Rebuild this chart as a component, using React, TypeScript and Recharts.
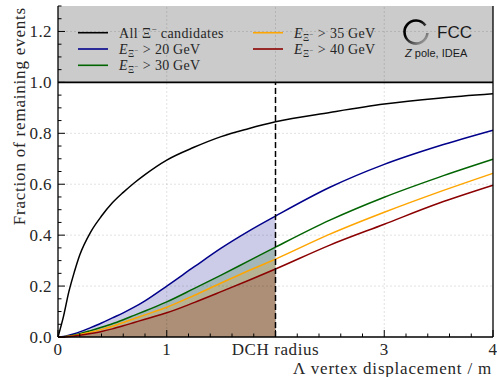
import React from "react";
import {
  ComposedChart,
  Area,
  Line,
  XAxis,
  YAxis,
  ReferenceArea,
  ReferenceLine,
  Legend,
  Customized,
} from "recharts";

// Lambda vertex displacement [m]
const displacement = [0, 0.05, 0.1, 0.15, 0.2, 0.3, 0.4, 0.5, 0.6, 0.7, 0.8, 1.0, 1.25, 1.5, 1.75, 2.0, 2.5, 3.0, 3.5, 4.0];
// fraction of remaining events per selection
const allCandidates = [0, 0.08, 0.178, 0.255, 0.322, 0.412, 0.475, 0.527, 0.568, 0.605, 0.638, 0.695, 0.745, 0.787, 0.818, 0.845, 0.882, 0.915, 0.938, 0.955];
const above20 = [0, 0.002, 0.007, 0.013, 0.02, 0.037, 0.055, 0.075, 0.095, 0.117, 0.142, 0.2, 0.275, 0.349, 0.415, 0.475, 0.588, 0.678, 0.75, 0.812];
const above30 = [0, 0.001, 0.004, 0.008, 0.013, 0.025, 0.038, 0.052, 0.068, 0.085, 0.102, 0.138, 0.19, 0.243, 0.298, 0.353, 0.459, 0.549, 0.627, 0.698];
const above35 = [0, 0.001, 0.003, 0.006, 0.01, 0.019, 0.03, 0.042, 0.057, 0.072, 0.087, 0.117, 0.163, 0.212, 0.26, 0.306, 0.404, 0.49, 0.569, 0.643];
const above40 = [0, 0.0005, 0.002, 0.004, 0.007, 0.014, 0.022, 0.032, 0.044, 0.057, 0.07, 0.095, 0.135, 0.178, 0.222, 0.267, 0.361, 0.443, 0.525, 0.596];

const dchRadius = 2.0;
const energyCuts = [20, 30, 35, 40];

const xMajorTicks = [0, 1, 2, 3, 4];
const xTickLabels = ["0", "1", "DCH radius", "3", "4"];
const yMajorTicks = [0, 0.2, 0.4, 0.6, 0.8, 1.0, 1.2];
const yTickLabels = ["0.0", "0.2", "0.4", "0.6", "0.8", "1.0", "1.2"];

const seriesKeys = ["all", "e20", "e30", "e35", "e40"];
const colours = ["#000000", "#00008b", "#006400", "#ffa500", "#8b0000"];
const seriesValues = [allCandidates, above20, above30, above35, above40];

const rows = displacement.map((x, i) => {
  const row: Record<string, number | null> = { x };
  seriesKeys.forEach((k, s) => {
    row[k] = seriesValues[s][i];
    row[k + "Fill"] = x <= dchRadius ? seriesValues[s][i] : null;
  });
  return row;
});

const xTicks = Array.from({ length: 21 }, (_, i) => Math.round(i * 2) / 10);
const yTicks = Array.from({ length: 27 }, (_, i) => Math.round(i * 5) / 100);

const FONT = "'Liberation Serif', 'DejaVu Serif', serif";
const SANS = "'Liberation Sans', Arial, 'DejaVu Sans', sans-serif";
const TEXT = "#262626";
const MAJOR = 7;
const MINOR = 3.5;

const majorIndex = (v: number, majors: number[]) =>
  majors.findIndex((m) => Math.abs(m - v) < 1e-6);

function BottomTick(p: any) {
  const idx = majorIndex(p.payload.value, xMajorTicks);
  return (
    <g>
      <line x1={p.x} x2={p.x} y1={p.y} y2={p.y - (idx >= 0 ? MAJOR : MINOR)} stroke="#000" strokeWidth={1} />
      {idx >= 0 && (
        <text x={p.x} y={p.y + 17.5} textAnchor="middle" style={{ fontFamily: FONT, fontSize: 17, letterSpacing: 0.6 }} fill={TEXT}>
          {xTickLabels[idx]}
        </text>
      )}
    </g>
  );
}

function TopTick(p: any) {
  const idx = majorIndex(p.payload.value, xMajorTicks);
  return <line x1={p.x} x2={p.x} y1={p.y} y2={p.y + (idx >= 0 ? MAJOR : MINOR)} stroke="#000" strokeWidth={1} />;
}

function LeftTick(p: any) {
  const idx = majorIndex(p.payload.value, yMajorTicks);
  return (
    <g>
      <line x1={p.x} x2={p.x + (idx >= 0 ? MAJOR : MINOR)} y1={p.y} y2={p.y} stroke="#000" strokeWidth={1} />
      {idx >= 0 && (
        <text x={p.x - 6} y={p.y} dy="0.34em" textAnchor="end" style={{ fontFamily: FONT, fontSize: 17, letterSpacing: 0.4 }} fill={TEXT}>
          {yTickLabels[idx]}
        </text>
      )}
    </g>
  );
}

function RightTick(p: any) {
  const idx = majorIndex(p.payload.value, yMajorTicks);
  return <line x1={p.x} x2={p.x - (idx >= 0 ? MAJOR : MINOR)} y1={p.y} y2={p.y} stroke="#000" strokeWidth={1} />;
}

function Titles() {
  return (
    <g style={{ fontFamily: FONT, fontSize: 17, letterSpacing: 0.8 }} fill={TEXT}>
      <text x={492} y={374} textAnchor="end">
        Λ vertex displacement / m
      </text>
      <text x={25} y={7} textAnchor="end" transform="rotate(-90 25 7)">
        Fraction of remaining events
      </text>
    </g>
  );
}

const legendColX = [78, 253];

function LegendPanel() {
  const cx = 416;
  const cy = 32;
  const r = 11.5;
  const a0 = (35 * Math.PI) / 180;
  const a1 = (-5 * Math.PI) / 180;
  const ring = `M ${cx + r * Math.cos(a0)} ${cy - r * Math.sin(a0)} A ${r} ${r} 0 1 0 ${cx + r * Math.cos(a1)} ${cy - r * Math.sin(a1)}`;
  return (
    <svg width={497} height={80} style={{ position: "absolute", left: 0, top: 0, overflow: "visible" }}>
      <defs>
        <linearGradient id="ringGrad" x1="0" y1="0" x2="1" y2="1">
          <stop offset="0.35" stopColor="#000" />
          <stop offset="1" stopColor="#b5b5b5" />
        </linearGradient>
      </defs>
      {seriesKeys.map((k, i) => {
        const col = i < 3 ? 0 : 1;
        const row = i < 3 ? i : i - 3;
        const lx = legendColX[col];
        const ly = 32.7 + row * 16.3;
        return (
          <g key={k}>
            <line x1={lx} x2={lx + 30} y1={ly} y2={ly} stroke={colours[i]} strokeWidth={1.6} />
            <text x={lx + 41} y={ly + 5} fill={TEXT} style={{ fontFamily: FONT, fontSize: 14, letterSpacing: 0.4 }}>
              {i === 0 ? (
                <>
                  All Ξ<tspan fontSize={9} dy={-6}>−</tspan>
                  <tspan dy={6}> candidates</tspan>
                </>
              ) : (
                <>
                  <tspan fontStyle="italic">E</tspan>
                  <tspan fontSize={9.5} dy={3}>Ξ</tspan>
                  <tspan fontSize={7} dy={-4}>−</tspan>
                  <tspan dy={1}>{"  > " + energyCuts[i - 1] + "\u2009GeV"}</tspan>
                </>
              )}
            </text>
          </g>
        );
      })}
      <path d={ring} fill="none" stroke="url(#ringGrad)" strokeWidth={2.6} />
      <text x={437} y={38} fill="#1a1a1a" style={{ fontFamily: SANS, fontSize: 17 }}>
        FCC
      </text>
      <text x={405} y={57} fill="#1a1a1a" style={{ fontFamily: SANS, fontSize: 11 }}>
        <tspan fontStyle="italic">Z</tspan> pole, IDEA
      </text>
    </svg>
  );
}

export default function App() {
  const ax = { xAxisId: "b", yAxisId: "l" };
  return (
    <div style={{ position: "absolute", left: 0, top: 0, width: 497, height: 377, background: "#fff" }}>
      <ComposedChart width={497} height={377} data={rows} margin={{ top: 6, right: 0, bottom: 0, left: 0 }}>
        <XAxis
          xAxisId="b"
          dataKey="x"
          type="number"
          domain={[0, 4]}
          ticks={xTicks}
          interval={0}
          tickSize={0}
          tickMargin={0}
          tickLine={false}
          axisLine={{ stroke: "#000", strokeWidth: 1.3 }}
          tick={(p: any) => <BottomTick {...p} />}
          height={40}
        />
        <XAxis
          xAxisId="t"
          orientation="top"
          dataKey="x"
          type="number"
          domain={[0, 4]}
          ticks={xTicks}
          interval={0}
          tickSize={0}
          tickMargin={0}
          tickLine={false}
          axisLine={{ stroke: "#000", strokeWidth: 1.3 }}
          tick={(p: any) => <TopTick {...p} />}
          height={0}
        />
        <YAxis
          yAxisId="l"
          type="number"
          domain={[0, 1.3]}
          ticks={yTicks}
          interval={0}
          tickSize={0}
          tickMargin={0}
          tickLine={false}
          axisLine={{ stroke: "#000", strokeWidth: 1.3 }}
          tick={(p: any) => <LeftTick {...p} />}
          width={58}
        />
        <YAxis
          yAxisId="r"
          orientation="right"
          type="number"
          domain={[0, 1.3]}
          ticks={yTicks}
          interval={0}
          tickSize={0}
          tickMargin={0}
          tickLine={false}
          axisLine={{ stroke: "#000", strokeWidth: 1.3 }}
          tick={(p: any) => <RightTick {...p} />}
          width={4}
        />

        <ReferenceArea {...ax} y1={1.0} y2={1.3} x1={0} x2={4} fill="#cbcbcb" fillOpacity={1} stroke="none" />
        {xMajorTicks.slice(1, -1).map((v) => (
          <ReferenceLine key={"gx" + v} {...ax} x={v} stroke="#000" strokeOpacity={0.15} strokeDasharray="2 2" strokeWidth={0.8} />
        ))}
        {yMajorTicks.slice(1).map((v) => (
          <ReferenceLine key={"gy" + v} {...ax} y={v} stroke="#000" strokeOpacity={0.15} strokeDasharray="2 2" strokeWidth={0.8} />
        ))}

        {seriesKeys.slice(1).map((k, i) => (
          <Area
            key={k + "Fill"}
            {...ax}
            dataKey={k + "Fill"}
            type="monotone"
            stroke="none"
            fill={colours[i + 1]}
            fillOpacity={0.2}
            isAnimationActive={false}
            legendType="none"
          />
        ))}
        {seriesKeys.map((k, i) => (
          <Line
            key={k}
            {...ax}
            dataKey={k}
            type="monotone"
            stroke={colours[i]}
            strokeWidth={1.5}
            dot={false}
            activeDot={false}
            isAnimationActive={false}
          />
        ))}

        <ReferenceLine
          {...ax}
          segment={[{ x: dchRadius, y: 0 }, { x: dchRadius, y: 1.0 }]}
          stroke="#000"
          strokeWidth={1.5}
          strokeDasharray="6 3"
        />
        <ReferenceLine {...ax} y={1.0} stroke="#000" strokeWidth={1.6} />

        <Customized component={Titles} />
        <Legend
          verticalAlign="middle"
          layout="horizontal"
          wrapperStyle={{ left: 0, top: 0, width: 497, height: 0, margin: 0 }}
          content={() => <LegendPanel />}
        />
      </ComposedChart>
    </div>
  );
}
